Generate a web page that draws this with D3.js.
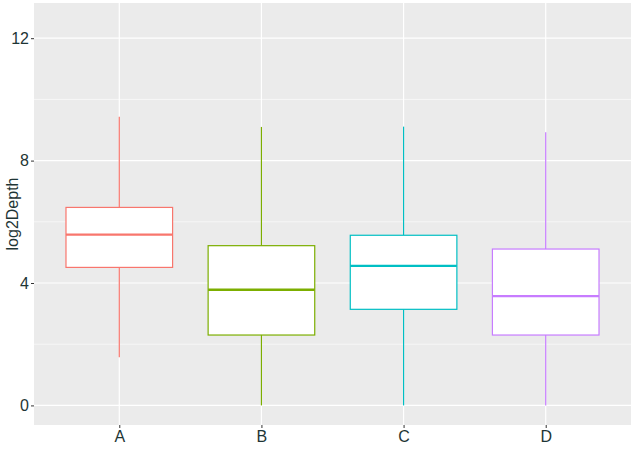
<!DOCTYPE html>
<html>
<head>
<meta charset="utf-8">
<script src="https://cdn.jsdelivr.net/npm/d3@7"></script>
<style>
  body { margin: 0; background: #fff; }
  text { font-family: "Liberation Sans", Arial, sans-serif; }
</style>
</head>
<body>
<svg id="chart" width="633" height="450"></svg>
<script>
// box stats
var groups = ["A", "B", "C", "D"];
var whiskerLow = [1.57, 0, 0, 0];
var q1 = [4.51, 2.30, 3.14, 2.30];
var median = [5.58, 3.78, 4.56, 3.57];
var q3 = [6.47, 5.22, 5.56, 5.11];
var whiskerHigh = [9.43, 9.10, 9.11, 8.93];
var colors = ["#F8766D", "#7CAE00", "#00BFC4", "#C77CFF"];
var yTicks = [0, 4, 8, 12];
var yMinor = [2, 6, 10];

var boxes = groups.map(function(g, i) {
    return {g: g, lo: whiskerLow[i], q1: q1[i], med: median[i], q3: q3[i], hi: whiskerHigh[i], col: colors[i]};
});

// panel edges (note: "top" is taken by window.top)
var pL = 34, pR = 631, pT = 3, pB = 425;
var textCol = "#1e3535";

var svg = d3.select("#chart");

var y = d3.scaleLinear().domain([-0.64, 13.15]).range([pB, pT]);
// ggplot-like discrete expansion: 0.6 units each side
var x = d3.scalePoint().domain(groups).range([pL, pR]).padding(0.6);
var boxW = x.step() * 0.75;

// panel
svg.append("rect").attr("x", pL).attr("y", pT)
    .attr("width", pR - pL).attr("height", pB - pT)
    .attr("fill", "#EBEBEB");

// grid
svg.selectAll(".minor").data(yMinor).enter().append("line")
    .attr("x1", pL).attr("x2", pR)
    .attr("y1", d => y(d)).attr("y2", d => y(d))
    .attr("stroke", "#fff").attr("stroke-width", 0.6);
svg.selectAll(".major").data(yTicks).enter().append("line")
    .attr("x1", pL).attr("x2", pR)
    .attr("y1", d => y(d)).attr("y2", d => y(d))
    .attr("stroke", "#fff").attr("stroke-width", 1.2);
svg.selectAll(".vgrid").data(groups).enter().append("line")
    .attr("x1", d => x(d)).attr("x2", d => x(d))
    .attr("y1", pT).attr("y2", pB)
    .attr("stroke", "#fff").attr("stroke-width", 1.2);

// boxes
var b = svg.selectAll(".box").data(boxes).enter().append("g");
b.append("line")
    .attr("x1", d => x(d.g)).attr("x2", d => x(d.g))
    .attr("y1", d => y(d.hi)).attr("y2", d => y(d.q3))
    .attr("stroke", d => d.col).attr("stroke-width", 1.2);
b.append("line")
    .attr("x1", d => x(d.g)).attr("x2", d => x(d.g))
    .attr("y1", d => y(d.q1)).attr("y2", d => y(d.lo))
    .attr("stroke", d => d.col).attr("stroke-width", 1.2);
b.append("rect")
    .attr("x", d => x(d.g) - boxW / 2).attr("width", boxW)
    .attr("y", d => y(d.q3)).attr("height", d => y(d.q1) - y(d.q3))
    .attr("fill", "#fff").attr("stroke", d => d.col).attr("stroke-width", 1.2);
b.append("line")
    .attr("x1", d => x(d.g) - boxW / 2).attr("x2", d => x(d.g) + boxW / 2)
    .attr("y1", d => y(d.med)).attr("y2", d => y(d.med))
    .attr("stroke", d => d.col).attr("stroke-width", 2.4);

// y axis
var yAxis = d3.axisLeft(y).tickValues(yTicks).tickSize(3).tickPadding(2);
var ya = svg.append("g").attr("transform", "translate(" + pL + ",0)").call(yAxis);
ya.select(".domain").remove();
ya.selectAll("line").attr("stroke", "#333");
ya.selectAll("text").attr("fill", textCol).style("font-size", "16px");

// x axis
var xAxis = d3.axisBottom(x).tickSize(3).tickPadding(3);
var xa = svg.append("g").attr("transform", "translate(0," + pB + ")").call(xAxis);
xa.select(".domain").remove();
xa.selectAll("line").attr("stroke", "#333");
xa.selectAll("text").attr("fill", textCol).style("font-size", "16px");

// axis title
svg.append("text")
    .attr("transform", "translate(18," + ((pT + pB) / 2) + ") rotate(-90)")
    .attr("text-anchor", "middle")
    .attr("fill", textCol)
    .style("font-size", "16px")
    .text("log2Depth");
</script>
</body>
</html>
